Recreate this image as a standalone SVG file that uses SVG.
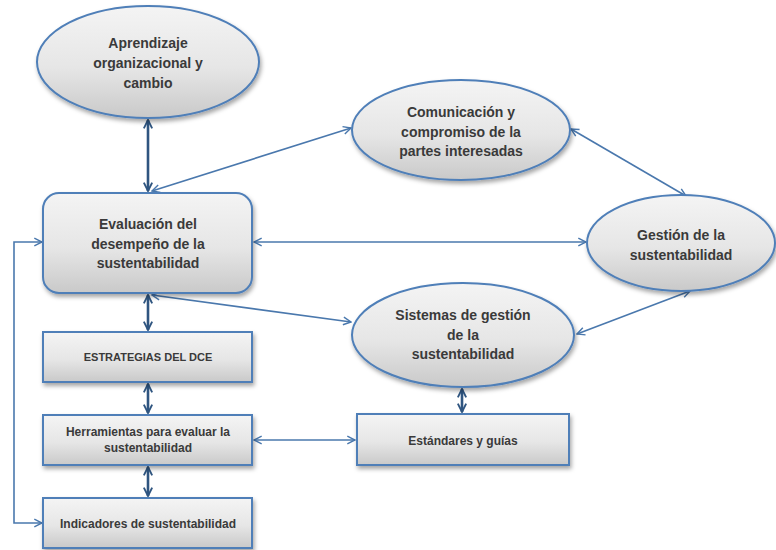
<svg xmlns="http://www.w3.org/2000/svg" width="776" height="550" viewBox="0 0 776 550">
<defs>
<linearGradient id="g" x1="0" y1="0" x2="0" y2="1">
<stop offset="0" stop-color="#f4f4f4"/>
<stop offset="0.55" stop-color="#e6e6e6"/>
<stop offset="1" stop-color="#c9c9c9"/>
</linearGradient>
<filter id="sh" x="-10%" y="-10%" width="125%" height="130%">
<feDropShadow dx="1.5" dy="3" stdDeviation="2" flood-color="#000" flood-opacity="0.35"/>
</filter>
<marker id="a" viewBox="0 0 10 10" refX="9" refY="5" markerWidth="6" markerHeight="6" orient="auto-start-reverse" markerUnits="strokeWidth">
<path d="M1,1 L9,5 L1,9" fill="none" stroke="context-stroke" stroke-width="1.5"/>
</marker>
<marker id="b" viewBox="0 0 10 10" refX="9" refY="5" markerWidth="4" markerHeight="4" orient="auto-start-reverse" markerUnits="strokeWidth">
<path d="M1,1 L9,5 L1,9" fill="none" stroke="context-stroke" stroke-width="1.8"/>
</marker>
</defs>
<style>
.n{fill:url(#g);stroke:#4f7fb8;stroke-width:2;filter:url(#sh)}
.t{font-family:"Liberation Sans",Arial,sans-serif;font-weight:bold;fill:#3a3a3a;text-anchor:middle}
.e{font-size:14px}
.s{font-size:12px}
.c{fill:none;stroke:#4a78ad;stroke-width:1.6;marker-start:url(#a);marker-end:url(#a)}
.d{fill:none;stroke:#2f5580;stroke-width:2.6;marker-start:url(#b);marker-end:url(#b)}
</style>
<g id="connectors">
<line class="d" x1="148" y1="120" x2="148" y2="191"/>
<line class="c" x1="152" y1="191" x2="351" y2="128"/>
<line class="c" x1="571" y1="129" x2="686" y2="196"/>
<line class="c" x1="254" y1="242" x2="586" y2="242"/>
<line class="c" x1="152" y1="295" x2="351" y2="322"/>
<line class="c" x1="690" y1="291" x2="577" y2="334"/>
<line class="d" x1="148" y1="295" x2="148" y2="330"/>
<line class="d" x1="148" y1="384" x2="148" y2="413"/>
<line class="d" x1="148" y1="467" x2="148" y2="496"/>
<line class="c" x1="254" y1="440" x2="355" y2="440"/>
<line class="d" x1="462" y1="389" x2="462" y2="412"/>
<polyline class="c" points="42,523 14,523 14,242 42,242"/>
</g>
<g id="aprendizaje">
<ellipse class="n" cx="148" cy="62" rx="111" ry="56"/>
<text class="t e" x="148" y="48">Aprendizaje</text>
<text class="t e" x="148" y="68">organizacional y</text>
<text class="t e" x="148" y="88">cambio</text>
</g>
<g id="comunicacion">
<ellipse class="n" cx="461" cy="130" rx="109" ry="50"/>
<text class="t e" x="461" y="117">Comunicación y</text>
<text class="t e" x="461" y="137">compromiso de la</text>
<text class="t e" x="461" y="156">partes interesadas</text>
</g>
<g id="gestion">
<ellipse class="n" cx="681" cy="243" rx="94" ry="48"/>
<text class="t e" x="681" y="240">Gestión de la</text>
<text class="t e" x="681" y="260">sustentabilidad</text>
</g>
<g id="evaluacion">
<rect class="n" x="43" y="193" width="209" height="100" rx="16"/>
<text class="t e" x="148" y="229">Evaluación del</text>
<text class="t e" x="148" y="249">desempeño de la</text>
<text class="t e" x="148" y="268">sustentabilidad</text>
</g>
<g id="sistemas">
<ellipse class="n" cx="463" cy="335" rx="111" ry="52"/>
<text class="t e" x="463" y="320">Sistemas de gestión</text>
<text class="t e" x="463" y="340">de la</text>
<text class="t e" x="463" y="359">sustentabilidad</text>
</g>
<g id="estrategias">
<rect class="n" x="43" y="332" width="209" height="50"/>
<text class="t" x="148" y="361" style="font-size:11px">ESTRATEGIAS DEL DCE</text>
</g>
<g id="herramientas">
<rect class="n" x="43" y="415" width="209" height="50"/>
<text class="t s" x="148" y="436">Herramientas para evaluar la</text>
<text class="t s" x="148" y="452">sustentabilidad</text>
</g>
<g id="indicadores">
<rect class="n" x="43" y="498" width="209" height="50"/>
<text class="t s" x="148" y="528">Indicadores de sustentabilidad</text>
</g>
<g id="estandares">
<rect class="n" x="357" y="414" width="212" height="51"/>
<text class="t s" x="463" y="445">Estándares y guías</text>
</g>
</svg>
